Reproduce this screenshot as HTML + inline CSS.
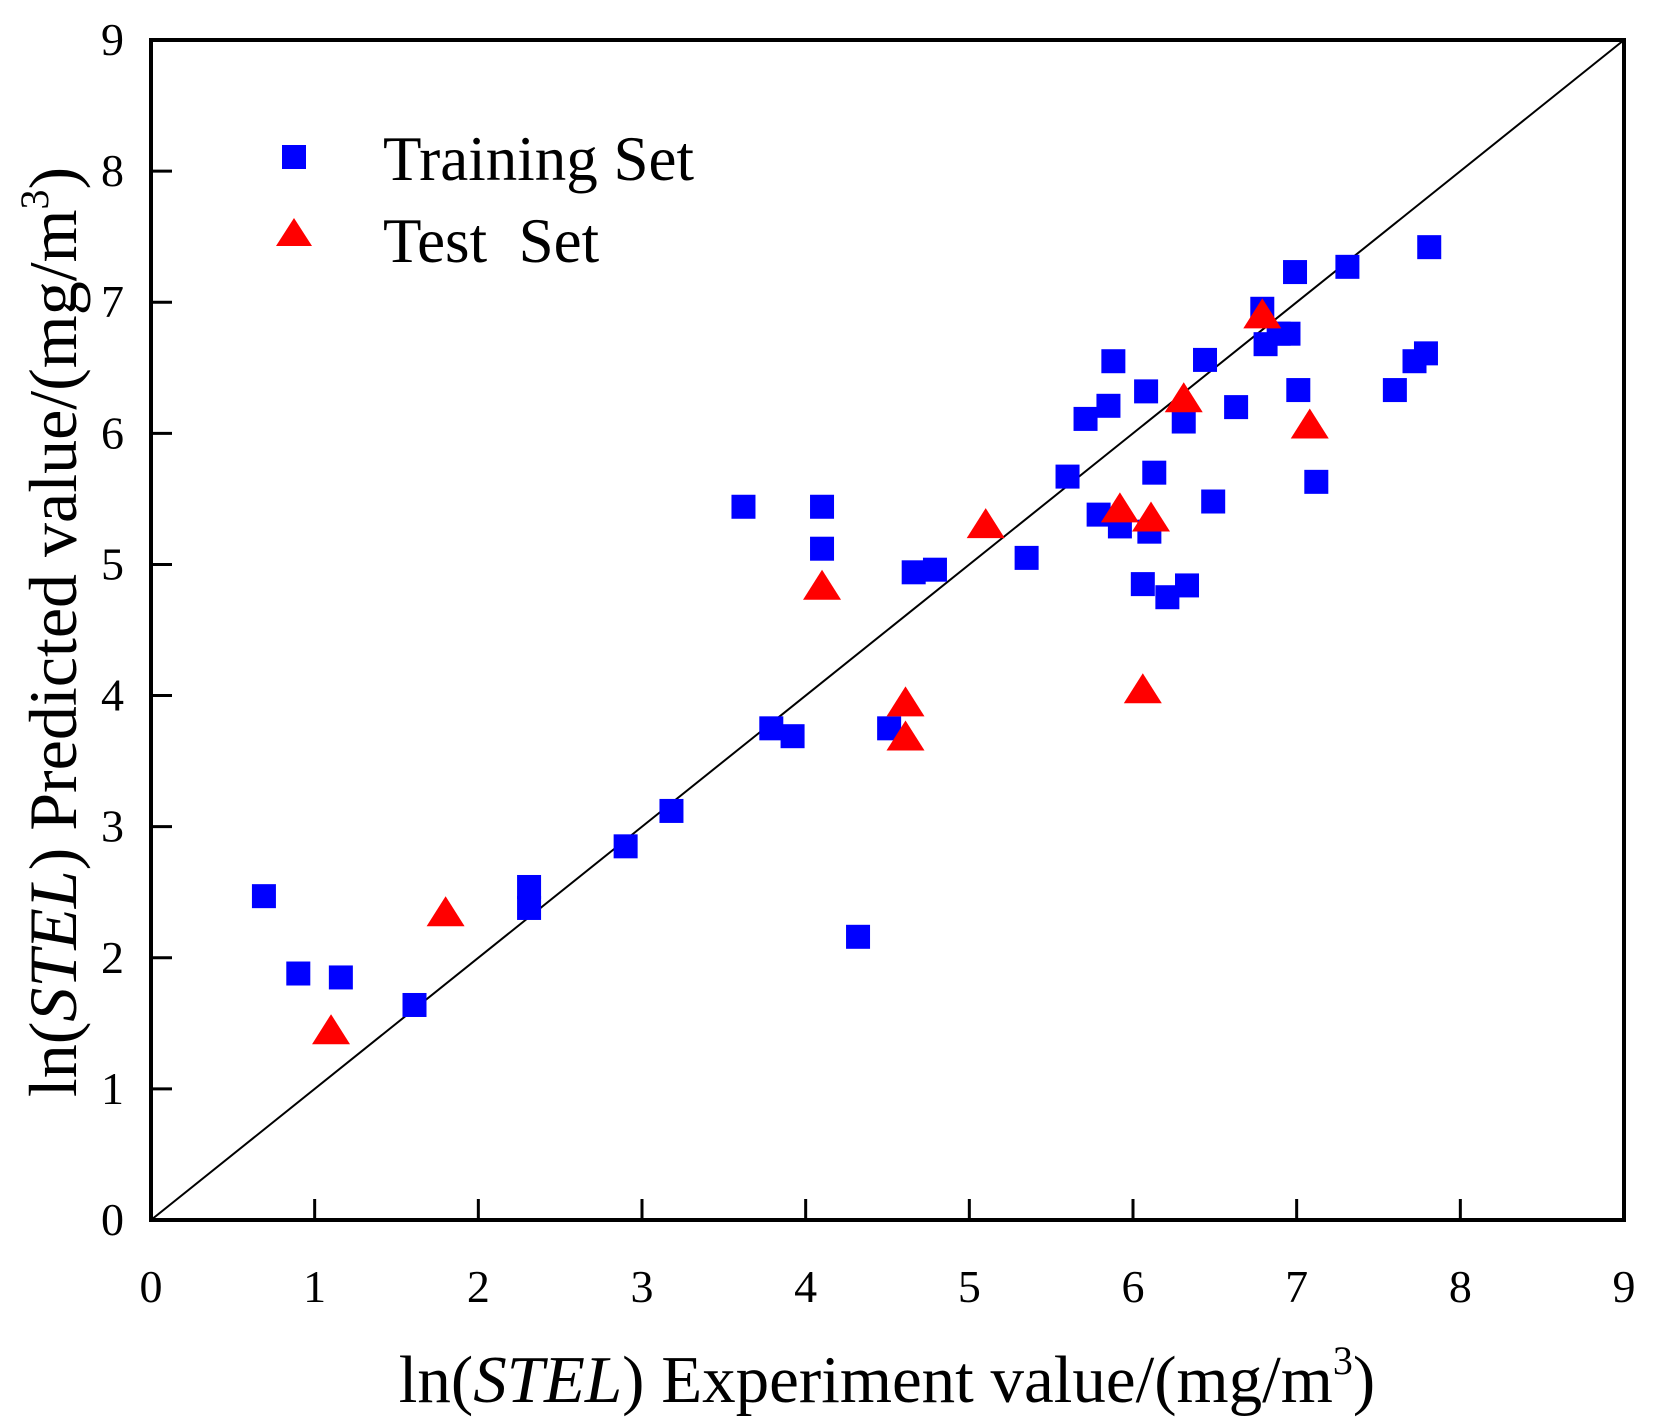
<!DOCTYPE html>
<html><head><meta charset="utf-8"><style>
html,body{margin:0;padding:0;background:#fff;}
svg{display:block;font-family:"Liberation Serif",serif;}
</style></head><body>
<svg id="chart" width="1658" height="1428" viewBox="0 0 1658 1428" xmlns="http://www.w3.org/2000/svg">
<g id="plot"></g>
<g>
 <rect x="282" y="145" width="24" height="24" fill="#0000ff"/>
 <text x="383" y="180" font-size="63">Training Set</text>
 <polygon points="294,218 312,246 276,246" fill="#ff0000"/>
 <text x="383" y="262" font-size="63" xml:space="preserve">Test  Set</text>
</g>
<text x="887" y="1402" font-size="67" text-anchor="middle">ln(<tspan font-style="italic">STEL</tspan>) Experiment value/(mg/m<tspan font-size="40" dy="-28">3</tspan><tspan dy="28">)</tspan></text>
<text transform="translate(76,632) rotate(-90)" font-size="68" text-anchor="middle">ln(<tspan font-style="italic">STEL</tspan>) Predicted value/(mg/m<tspan font-size="40" dy="-28">3</tspan><tspan dy="28">)</tspan></text>
</svg>
<script>
const trainX=[0.69,0.90,1.16,1.61,2.31,2.31,2.90,3.18,3.62,3.79,3.92,4.10,4.10,4.32,4.51,4.66,4.79,5.35,5.60,5.71,5.79,5.85,5.88,5.92,6.06,6.08,6.10,6.13,6.21,6.31,6.33,6.44,6.49,6.63,6.79,6.81,6.95,6.99,7.01,7.12,7.31,7.60,7.72,7.79,7.81,6.89];
const trainY=[2.47,1.88,1.85,1.64,2.54,2.38,2.85,3.12,5.44,3.75,3.69,5.44,5.12,2.16,3.75,4.94,4.96,5.05,5.67,6.11,5.38,6.21,6.55,5.29,4.85,6.32,5.25,5.70,4.75,6.09,4.84,6.56,5.48,6.20,6.95,6.68,6.76,7.23,6.33,5.63,7.27,6.33,6.55,6.61,7.42,6.76];
const testX=[1.10,1.80,4.10,4.61,4.61,5.10,5.92,6.06,6.11,6.31,6.79,7.08];
const testY=[1.44,2.34,4.83,3.94,3.68,5.30,5.42,4.04,5.35,6.26,6.90,6.06];
const ticks=[0,1,2,3,4,5,6,7,8,9];
const X0=151,X1=1624,Y0=1220,Y1=40;
const sx=v=>X0+(X1-X0)*v/9, sy=v=>Y0-(Y0-Y1)*v/9;
const NS="http://www.w3.org/2000/svg";
const plot=document.getElementById('plot');
function mk(tag,attrs){const e=document.createElementNS(NS,tag);for(const k in attrs)e.setAttribute(k,attrs[k]);plot.appendChild(e);return e;}
let d=mk('line',{x1:sx(0),y1:sy(0),x2:sx(9),y2:sy(9),stroke:'#000','stroke-width':2});


ticks.forEach(t=>{
 if(t>0&&t<9){
  let a=mk('line',{x1:sx(t),y1:Y0,x2:sx(t),y2:Y0-21,stroke:'#000','stroke-width':3});
  
  
  let b=mk('line',{x1:X0,y1:sy(t),x2:X0+21,y2:sy(t),stroke:'#000','stroke-width':3});
  
  
 }
 let tx=mk('text',{x:sx(t),y:1302,'font-size':46,'text-anchor':'middle'});tx.textContent=t;
 
 
 let ty=mk('text',{x:124,y:sy(t)+15,'font-size':46,'text-anchor':'end'});ty.textContent=t;
 
 
});
trainX.forEach((v,i)=>{
 let r=mk('rect',{x:sx(v)-12,y:sy(trainY[i])-12,width:24,height:24,fill:'#0000ff'});
 
 
});
testX.forEach((v,i)=>{
 const cx=sx(v),cy=sy(testY[i]);
 let p=mk('polygon',{points:`${cx},${cy-17} ${cx+19},${cy+13} ${cx-19},${cy+13}`,fill:'#ff0000'});
 
 
});
let f=mk('rect',{x:X0,y:Y1,width:X1-X0,height:Y0-Y1,fill:'none',stroke:'#000','stroke-width':4});


</script>
</body></html>
